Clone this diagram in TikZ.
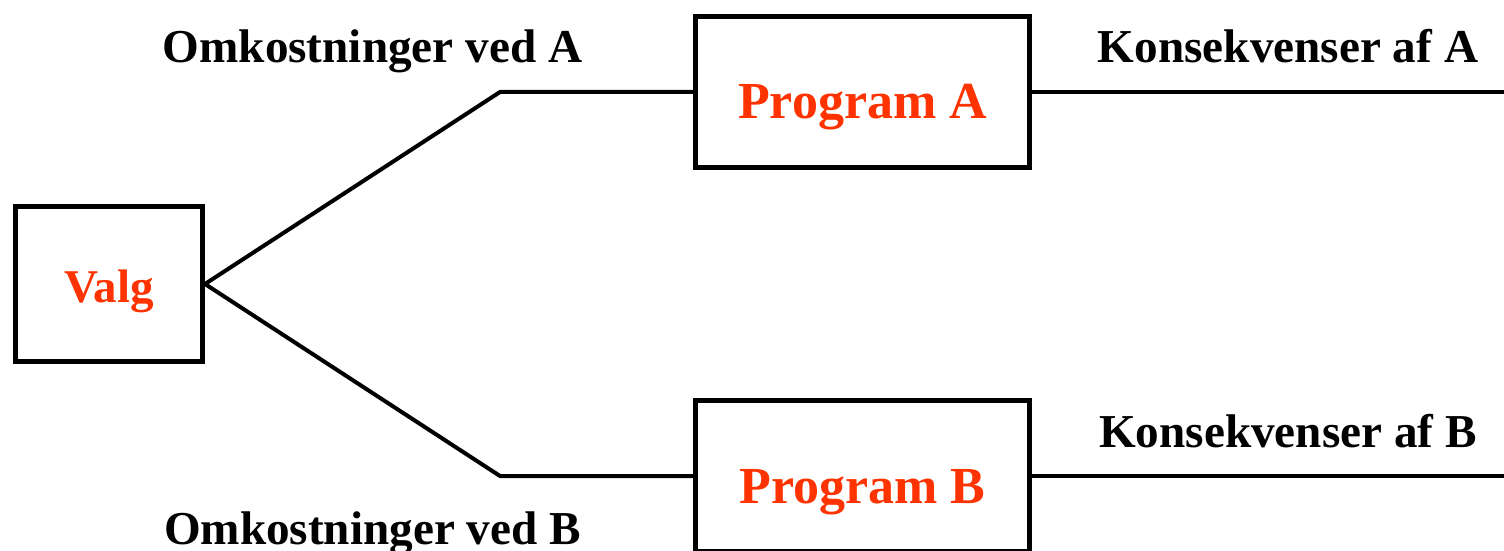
\documentclass[tikz,border=0pt]{standalone}
\usepackage{fontspec}
\setmainfont{Liberation Serif}
\usepackage{tikz}
\usetikzlibrary{positioning}
\usepackage{xcolor}
\definecolor{choicered}{RGB}{255,51,0}

\begin{document}
\begin{tikzpicture}[
  x=0.5pt, y=-0.5pt,
  box/.style={
    draw,
    line width=2.5pt,
    align=center,
    inner sep=0pt,
    text=choicered,
    text depth=0pt
  },
  choicebox/.style={
    box,
    minimum width=93.5pt,
    minimum height=77.5pt,
    text height=18pt,
    font=\fontsize{23.5}{28}\selectfont\bfseries
  },
  progbox/.style={
    box,
    minimum width=167pt,
    minimum height=75.5pt,
    text height=27pt,
    font=\fontsize{26}{31}\selectfont\bfseries
  },
  conn/.style={
    line width=2pt,
    line join=miter
  },
  lbl/.style={
    anchor=base,
    inner sep=0pt,
    font=\fontsize{23.6}{28}\selectfont\bfseries
  }
]
\useasboundingbox (0,0) rectangle (1504,551);

% Boxes
\node[choicebox] (valg) at (109,284) {Valg};
\node[progbox] (progA) at (862.5,92) {Program A};
\node[progbox] (progB) at (862.5,476) {Program B};

% Bends and free ends
\coordinate (kinkA) at (500,92);
\coordinate (kinkB) at (500,476);
\coordinate (endA) at (1504,92);
\coordinate (endB) at (1504,476);

% Labels
\node[lbl] (costA) at (372.5,63) {Omkostninger ved A};
\node[lbl] (costB) at (372.5,544) {Omkostninger ved B};
\node[lbl] (consA) at (1288,63) {Konsekvenser af A};
\node[lbl] (consB) at (1288,447) {Konsekvenser af B};

% Branches
\draw[conn] (valg.east) -- (kinkA) -- (progA.west);
\draw[conn] (valg.east) -- (kinkB) -- (progB.west);
\draw[conn] (progA.east) -- (endA);
\draw[conn] (progB.east) -- (endB);

\end{tikzpicture}
\end{document}
